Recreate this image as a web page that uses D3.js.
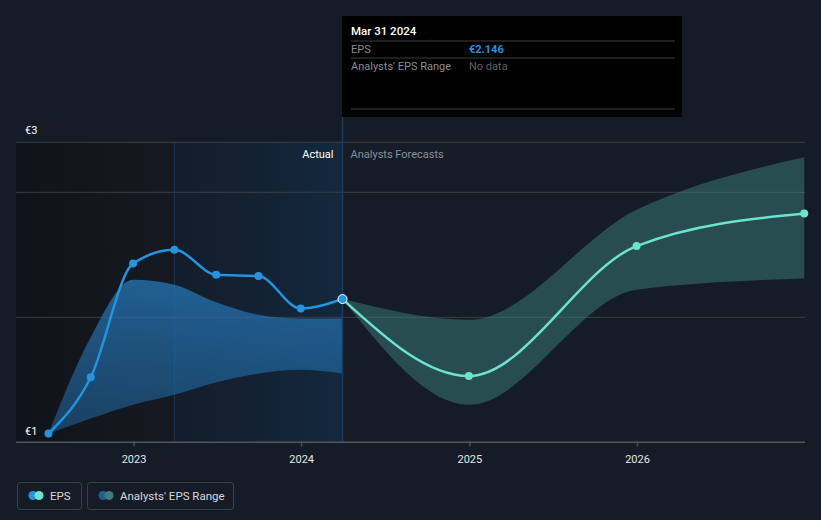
<html>
<head>
<script src='https://d3js.org/d3.v7.min.js'></script>
<style>
body { margin:0; background:#161c27; }
text { font-family: Roboto, 'Noto Sans', sans-serif; }
</style>
</head>
<body onload='init()'>
<svg width=821 height=520></svg>
<script>
// actual EPS (quarterly, trailing)
const actualDates = ['2022-06-30','2022-09-30','2022-12-31','2023-03-31','2023-06-30','2023-09-30','2023-12-31','2024-03-31'];
const actualEps   = [1.07, 1.52, 2.43, 2.54, 2.34, 2.33, 2.07, 2.146];
const pastLow     = [1.07, 1.19, 1.30, 1.38, 1.48, 1.55, 1.58, 1.55];
const pastHigh    = [1.07, 1.84, 2.30, 2.26, 2.12, 2.02, 1.99, 1.99];

// analyst forecasts
const fcDates = ['2024-03-31','2024-12-31','2025-12-31','2026-12-31'];
const fcEps   = [2.146, 1.53, 2.57, 2.83];
const fcLow   = [2.146, 1.30, 2.22, 2.31];
const fcHigh  = [2.146, 1.98, 2.86, 3.28];

const yearTicks = ['2023','2024','2025','2026'];
const yLabels = [{v:3.4, t:'€3', dy:-8}, {v:1, t:'€1', dy:-7}];
const gridVals = [3.4, 3, 2];

function init() {
  const parse = d3.timeParse('%Y-%m-%d');
  const svg = d3.select('svg');

  const xs = d3.scaleTime()
    .domain([parse('2023-01-01'), parse('2026-01-01')])
    .range([133.5, 637]);
  const ys = d3.scaleLinear().domain([1, 2]).range([442.3, 317.3]);

  const left = 16, right = 805;
  const highStart = parse('2023-03-31'), nowDate = parse('2024-03-31');

  const defs = svg.append('defs');
  const g1 = defs.append('linearGradient').attr('id','pastbg');
  g1.append('stop').attr('offset','0%').attr('stop-color','#101318');
  g1.append('stop').attr('offset','100%').attr('stop-color','#151a22');
  const g2 = defs.append('linearGradient').attr('id','hlbg');
  g2.append('stop').attr('offset','0%').attr('stop-color','#131d2a');
  g2.append('stop').attr('offset','100%').attr('stop-color','#13283d');
  const g3 = defs.append('linearGradient').attr('id','bandpast').attr('x1',0).attr('x2',0).attr('y1',0).attr('y2',1);
  g3.append('stop').attr('offset','0%').attr('stop-color','#2577b8').attr('stop-opacity',0.75);
  g3.append('stop').attr('offset','100%').attr('stop-color','#1f5d90').attr('stop-opacity',0.6);

  // background regions
  svg.append('rect').attr('x', left).attr('y', ys(3.4))
    .attr('width', xs(highStart) - left).attr('height', ys(1) - ys(3.4))
    .attr('fill','url(#pastbg)');
  svg.append('rect').attr('x', xs(highStart)).attr('y', ys(3.4))
    .attr('width', xs(nowDate) - xs(highStart)).attr('height', ys(1) - ys(3.4))
    .attr('fill','url(#hlbg)');
  svg.append('line').attr('x1', xs(highStart)).attr('x2', xs(highStart))
    .attr('y1', ys(3.4)).attr('y2', ys(1)).attr('stroke','#1a3550').attr('stroke-width',1);

  // grid
  svg.selectAll('.grid').data(gridVals).enter().append('line')
    .attr('x1', left).attr('x2', right)
    .attr('y1', d => ys(d)).attr('y2', d => ys(d))
    .attr('stroke','#3a3f48').attr('stroke-width',1);

  const actual = actualDates.map((d,i) => ({x: parse(d), y: actualEps[i], lo: pastLow[i], hi: pastHigh[i]}));
  const fc = fcDates.map((d,i) => ({x: parse(d), y: fcEps[i], lo: fcLow[i], hi: fcHigh[i]}));

  const area = d3.area().curve(d3.curveMonotoneX)
    .x(d => xs(d.x)).y0(d => ys(d.lo)).y1(d => ys(d.hi));
  const line = d3.line().curve(d3.curveMonotoneX)
    .x(d => xs(d.x)).y(d => ys(d.y));

  svg.append('path').datum(actual).attr('d', area).attr('fill','url(#bandpast)');
  svg.append('path').datum(fc).attr('d', area).attr('fill','#3f8a85').attr('fill-opacity',0.45);

  // vertical marker line at current date
  svg.append('line').attr('x1', xs(nowDate)).attr('x2', xs(nowDate))
    .attr('y1', 117).attr('y2', ys(1)).attr('stroke','#1d3a58').attr('stroke-width',1.5);

  // axis
  const ax = svg.append('g').attr('transform','translate(0,' + ys(1) + ')')
    .call(d3.axisBottom(xs).tickValues(yearTicks.map(y => parse(y + '-01-01')))
      .tickFormat(d3.timeFormat('%Y')).tickSize(5).tickPadding(8));
  ax.select('.domain').remove();
  ax.selectAll('.tick line').attr('stroke','#4a4f58').attr('stroke-width',1.5).attr('y1',-1).attr('y2',4);
  ax.selectAll('.tick text').attr('fill','#e6e6e6').attr('font-size',11).attr('font-family','Roboto, sans-serif');
  svg.append('line').attr('x1', left).attr('x2', right).attr('y1', ys(1)).attr('y2', ys(1))
    .attr('stroke','#50555e').attr('stroke-width',1.5);

  // y labels
  svg.selectAll('.ylab').data(yLabels).enter().append('text')
    .attr('x', 25).attr('y', d => ys(d.v) + d.dy)
    .attr('fill','#ffffff').attr('font-size',11).text(d => d.t);

  // lines
  svg.append('path').datum(fc).attr('d', line).attr('fill','none')
    .attr('stroke','#6ae3cf').attr('stroke-width',2.5);
  svg.append('path').datum(actual).attr('d', line).attr('fill','none')
    .attr('stroke','#2394df').attr('stroke-width',2.5);

  svg.selectAll('.fcpt').data(fc.slice(1)).enter().append('circle')
    .attr('cx', d => xs(d.x)).attr('cy', d => ys(d.y)).attr('r', 4).attr('fill','#6ae3cf');
  svg.selectAll('.acpt').data(actual.slice(0, -1)).enter().append('circle')
    .attr('cx', d => xs(d.x)).attr('cy', d => ys(d.y)).attr('r', 4).attr('fill','#2394df');
  const last = actual[actual.length - 1];
  svg.append('circle').attr('cx', xs(last.x)).attr('cy', ys(last.y)).attr('r', 4.5)
    .attr('fill','#2394df').attr('stroke','#ffffff').attr('stroke-width',1);

  // section labels
  svg.append('text').attr('x', xs(nowDate) - 9).attr('y', ys(3.4) + 16).attr('text-anchor','end')
    .attr('fill','#ffffff').attr('font-size',11).text('Actual');
  svg.append('text').attr('x', xs(nowDate) + 8).attr('y', ys(3.4) + 16)
    .attr('fill','#8a8f98').attr('font-size',11).text('Analysts Forecasts');

  // tooltip
  const tt = svg.append('g');
  tt.append('rect').attr('x', 342).attr('y', 16).attr('width', 340).attr('height', 101).attr('fill','#000000');
  tt.append('text').attr('x', 351).attr('y', 35).attr('fill','#ffffff').attr('font-size',11.5)
    .attr('font-weight',500).text('Mar 31 2024');
  [41, 58, 109].forEach(y => tt.append('line').attr('x1',351).attr('x2',675).attr('y1',y).attr('y2',y)
    .attr('stroke','#3a3d42').attr('stroke-width',1));
  tt.append('text').attr('x', 351).attr('y', 53).attr('fill','#8a8d92').attr('font-size',11).text('EPS');
  tt.append('text').attr('x', 469).attr('y', 53).attr('fill','#2394df').attr('font-size',11)
    .attr('font-weight',700).text('€' + d3.format('.3f')(last.y));
  tt.append('text').attr('x', 351).attr('y', 70).attr('fill','#8a8d92').attr('font-size',11).text("Analysts' EPS Range");
  tt.append('text').attr('x', 469).attr('y', 70).attr('fill','#5e6166').attr('font-size',11).text('No data');

  // legend
  const leg = [
    {label:'EPS', x:17, w:64, c1:'#2394df', c2:'#6ae3cf'},
    {label:"Analysts' EPS Range", x:87, w:146, c1:'#1f5f8f', c2:'#3e7c78'}
  ];
  const lg = svg.selectAll('.leg').data(leg).enter().append('g');
  lg.append('rect').attr('x', d => d.x + 0.5).attr('y', 482.5).attr('width', d => d.w).attr('height', 27)
    .attr('rx', 3).attr('fill','none').attr('stroke','#3b4049');
  lg.append('circle').attr('cx', d => d.x + 16).attr('cy', 495.5).attr('r', 4.5).attr('fill', d => d.c1);
  lg.append('circle').attr('cx', d => d.x + 22).attr('cy', 495.5).attr('r', 4.5).attr('fill', d => d.c2);
  lg.append('text').attr('x', d => d.x + 33).attr('y', 499.5).attr('fill','#d8d8d8').attr('font-size',11.5)
    .text(d => d.label);
}
</script>
</body>
</html>
